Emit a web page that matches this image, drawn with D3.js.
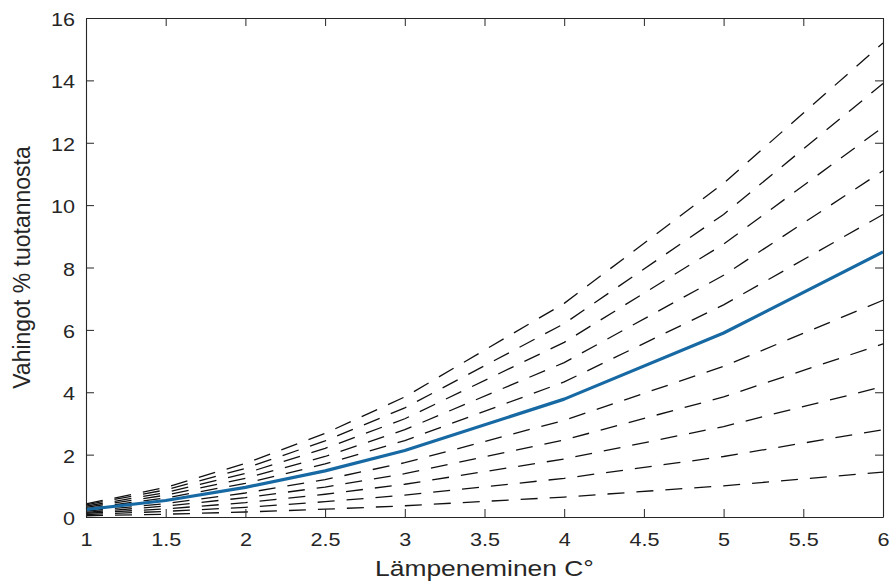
<!DOCTYPE html>
<html><head><meta charset="utf-8">
<script src="https://cdn.jsdelivr.net/npm/d3@7"></script>
<style>
html,body{margin:0;padding:0;background:#fff;}
text{font-family:"Liberation Sans",Arial,Helvetica,sans-serif;fill:#262626;}
</style></head>
<body>
<svg id="chart" width="893" height="581"></svg>
<script>
// Warming (°C) sample points
const temps = [1, 1.5, 2, 2.5, 3, 4, 5, 6];
// Central damage estimate (% of output) – blue line
const central = [0.24, 0.53, 0.95, 1.48, 2.13, 3.78, 5.9, 8.5];
// Dashed alternative damage curves (% of output), top to bottom
const dashed1  = [0.42, 0.95, 1.72, 2.68, 3.85, 6.85, 10.7, 15.2];
const dashed2  = [0.39, 0.87, 1.56, 2.44, 3.5, 6.2, 9.7, 13.9];
const dashed3  = [0.35, 0.78, 1.4, 2.2, 3.15, 5.6, 8.75, 12.5];
const dashed4  = [0.31, 0.7, 1.24, 1.94, 2.8, 4.95, 7.75, 11.1];
const dashed5  = [0.27, 0.61, 1.08, 1.7, 2.45, 4.33, 6.8, 9.7];
const dashed7  = [0.19, 0.43, 0.77, 1.2, 1.74, 3.1, 4.83, 6.95];
const dashed8  = [0.15, 0.35, 0.62, 0.96, 1.39, 2.47, 3.85, 5.55];
const dashed9  = [0.12, 0.26, 0.46, 0.73, 1.05, 1.86, 2.9, 4.18];
const dashed10 = [0.08, 0.18, 0.31, 0.49, 0.7, 1.24, 1.94, 2.8];
const dashed11 = [0.04, 0.09, 0.16, 0.25, 0.36, 0.64, 1.0, 1.44];
const dashedSeries = [dashed1, dashed2, dashed3, dashed4, dashed5, dashed7, dashed8, dashed9, dashed10, dashed11];
const xTicks = [1, 1.5, 2, 2.5, 3, 3.5, 4, 4.5, 5, 5.5, 6];
const yTicks = [0, 2, 4, 6, 8, 10, 12, 14, 16];
const xTitle = "Lämpeneminen C°";
const yTitle = "Vahingot % tuotannosta";

const svg = d3.select("#chart");
const m = {left: 86, right: 10, top: 18, bottom: 64};
const W = 893, H = 581;
const x = d3.scaleLinear().domain([1, 6]).range([m.left, W - m.right]);
const y = d3.scaleLinear().domain([0, 16]).range([H - m.bottom, m.top]);
const axisColor = "#262626";
const tickLen = 8;
const stretch = 1.2;

const line = d3.line().x((d, i) => x(temps[i])).y(d => y(d));

const plot = svg.append("g");
plot.selectAll("path.dash").data(dashedSeries).join("path")
  .attr("class", "dash")
  .attr("d", d => line(d))
  .attr("fill", "none").attr("stroke", "#111").attr("stroke-width", 1.3)
  .attr("stroke-dasharray", "17,12");
plot.append("path").attr("d", line(central))
  .attr("fill", "none").attr("stroke", "#1769a3").attr("stroke-width", 3.2)
  .attr("stroke-linejoin", "round");

function styleAxis(g) {
  g.select(".domain").attr("stroke", axisColor).attr("stroke-width", 1.1);
  g.selectAll(".tick line").attr("stroke", axisColor).attr("stroke-width", 1);
  g.selectAll(".tick text").attr("font-size", 18).attr("fill", axisColor)
    .style("font-family", "'Liberation Sans',Arial,sans-serif");
}
const xb = svg.append("g").attr("transform", `translate(0,${y(0)})`)
  .call(d3.axisBottom(x).tickValues(xTicks).tickFormat(d3.format("")).tickSizeInner(-tickLen).tickSizeOuter(0).tickPadding(16));
styleAxis(xb);
xb.selectAll(".tick text").attr("transform", `scale(${stretch},1)`);
const xt = svg.append("g").attr("transform", `translate(0,${y(16)})`)
  .call(d3.axisTop(x).tickValues(xTicks).tickFormat("").tickSizeInner(-tickLen).tickSizeOuter(0));
styleAxis(xt);
const yl = svg.append("g").attr("transform", `translate(${x(1)},0)`)
  .call(d3.axisLeft(y).tickValues(yTicks).tickFormat(d3.format("")).tickSizeInner(-tickLen).tickSizeOuter(0).tickPadding(11));
styleAxis(yl);
yl.selectAll(".tick text").attr("x", -11 / stretch).attr("dy", "0.42em")
  .attr("transform", `scale(${stretch},1)`);
const yr = svg.append("g").attr("transform", `translate(${x(6)},0)`)
  .call(d3.axisRight(y).tickValues(yTicks).tickFormat("").tickSizeInner(-tickLen).tickSizeOuter(0));
styleAxis(yr);

const cx = (x(1) + x(6)) / 2;
svg.append("text").attr("transform", `translate(${cx},576) scale(${stretch},1)`)
  .attr("text-anchor", "middle").attr("font-size", 22).text(xTitle);
svg.append("text").attr("transform", `translate(30,${(y(0) + y(16)) / 2}) rotate(-90)`)
  .attr("text-anchor", "middle").attr("font-size", 23).text(yTitle);
</script>
</body></html>
